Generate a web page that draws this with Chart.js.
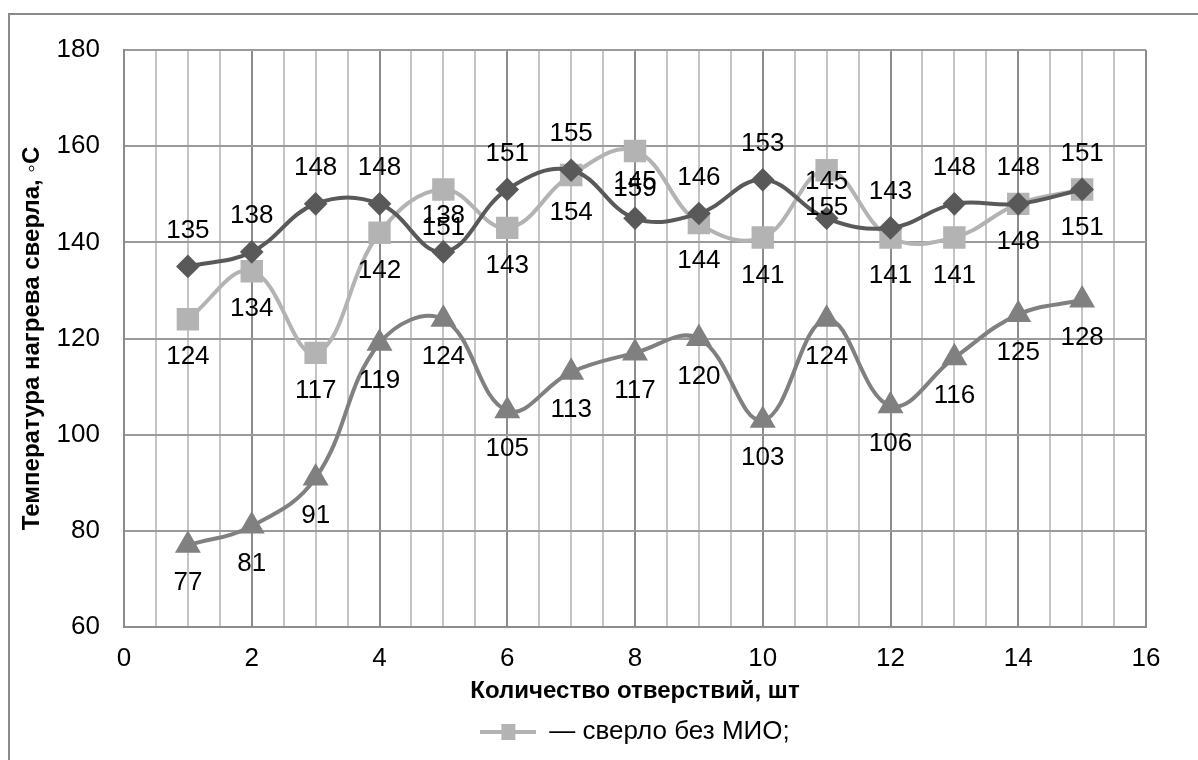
<!DOCTYPE html>
<html>
<head>
<meta charset="utf-8">
<script src="https://cdn.jsdelivr.net/npm/chart.js@4.4.1/dist/chart.umd.min.js"></script>
<style>
    html, body { margin: 0; padding: 0; background: #fff; }
    #wrap  { position: relative; width: 1198px; height: 760px; overflow: hidden; }
    #frame { position: absolute; left: 8px; top: 13px; width: 1300px; height: 900px; border: 2px solid #8a8a8a; }
    #chart { position: absolute; left: 0; top: 0; }
</style>
</head>
<body>
<div id="wrap">
    <div id="frame"></div>
    <canvas id="chart" width="1198" height="760"></canvas>
</div>
<script>
// Data
const holes       = [1, 2, 3, 4, 5, 6, 7, 8, 9, 10, 11, 12, 13, 14, 15];
const darkSeries  = [135, 138, 148, 148, 138, 151, 155, 145, 146, 153, 145, 143, 148, 148, 151];
const lightSeries = [124, 134, 117, 142, 151, 143, 154, 159, 144, 141, 155, 141, 141, 148, 151];
const midSeries   = [77, 81, 91, 119, 124, 105, 113, 117, 120, 103, 124, 106, 116, 125, 128];
const xTicks      = [0, 2, 4, 6, 8, 10, 12, 14, 16];
const yTicks      = [60, 80, 100, 120, 140, 160, 180];

const FONT = "Arial, 'Liberation Sans', sans-serif";
const toPoints = vals => vals.map((v, i) => ({ x: holes[i], y: v }));

// legend marker: line with a square on it
const legendMark = document.createElement("canvas");
legendMark.width = 56; legendMark.height = 18;
(() => {
    const c = legendMark.getContext("2d");
    c.strokeStyle = "#b3b3b3"; c.lineWidth = 4;
    c.beginPath(); c.moveTo(0, 9); c.lineTo(56, 9); c.stroke();
    c.fillStyle = "#b3b3b3";
    c.fillRect(21, 1, 14, 16);
})();

// value labels above / below each point
const valueLabels = {
    id: "valueLabels",
    afterDatasetsDraw(chart) {
        const ctx = chart.ctx;
        ctx.save();
        ctx.font = "26px " + FONT;
        ctx.fillStyle = "#000";
        ctx.textAlign = "center";
        ctx.textBaseline = "middle";
        chart.data.datasets.forEach((ds, di) => {
            const meta = chart.getDatasetMeta(di);
            const dy = ds.labelPos === "above" ? -36 : 38;
            meta.data.forEach((pt, i) => {
                ctx.fillText(String(ds.data[i].y), pt.x, pt.y + dy);
            });
        });
        ctx.restore();
    }
};

// center the legend under the plot area rather than the whole canvas
const centerLegend = {
    id: "centerLegend",
    afterLayout(chart) {
        const lg = chart.legend, ca = chart.chartArea;
        if (!lg || !ca) return;
        const shift = (ca.left + ca.right) / 2 - (lg.left + lg.right) / 2;
        lg.left += shift;
        lg.right += shift;
    }
};

new Chart(document.getElementById("chart"), {
    type: "line",
    data: {
        datasets: [
            {
                label: "сверло с МИО",
                data: toPoints(darkSeries),
                borderColor: "#595959", backgroundColor: "#595959",
                borderWidth: 4, tension: 0.4,
                pointStyle: "rectRot", pointRadius: 9, pointHoverRadius: 9,
                order: 0, labelPos: "above",
            },
            {
                label: "— сверло без МИО;",
                data: toPoints(lightSeries),
                borderColor: "#b3b3b3", backgroundColor: "#b3b3b3",
                borderWidth: 4, tension: 0.4,
                pointStyle: "rect", pointRadius: 13, pointHoverRadius: 13,
                order: 1, labelPos: "below",
            },
            {
                label: "сверло",
                data: toPoints(midSeries),
                borderColor: "#808080", backgroundColor: "#808080",
                borderWidth: 4, tension: 0.4,
                pointStyle: "triangle", pointRadius: 11, pointHoverRadius: 11,
                order: 2, labelPos: "below",
            },
        ]
    },
    options: {
        responsive: false,
        animation: false,
        events: [],
        layout: { padding: { left: 10, top: 50, right: 52, bottom: 5 } },
        plugins: {
            tooltip: { enabled: false },
            legend: {
                position: "bottom",
                labels: {
                    usePointStyle: true,
                    pointStyleWidth: 56,
                    generateLabels: chart => [{
                        text: chart.data.datasets[1].label,
                        pointStyle: legendMark,
                        datasetIndex: 1,
                        fontColor: "#000",
                        lineWidth: 0,
                    }],
                    color: "#000",
                    font: { family: FONT, size: 26 },
                    padding: 6,
                }
            }
        },
        scales: {
            x: {
                type: "linear", min: 0, max: 16,
                afterFit: s => { s.height = 86; },
                ticks: {
                    stepSize: 0.5, autoSkip: false, maxRotation: 0,
                    padding: 16, color: "#000",
                    font: { family: FONT, size: 26 },
                    callback: v => xTicks.includes(v) ? String(v) : "",
                },
                grid: {
                    drawTicks: false,
                    color: c => (c.tick && xTicks.includes(c.tick.value)) ? "#8c8c8c" : "#c4c4c4",
                    lineWidth: 2,
                },
                border: { color: "#8c8c8c", width: 2 },
                title: {
                    display: true, text: "Количество отверствий, шт",
                    color: "#000", font: { family: FONT, size: 24, weight: "bold" },
                    padding: { top: 4, bottom: 7 },
                },
            },
            y: {
                min: 60, max: 180,
                afterFit: s => { s.width = 114; },
                afterBuildTicks: s => { s.ticks = yTicks.map(v => ({ value: v })); },
                ticks: {
                    padding: 24, color: "#000",
                    font: { family: FONT, size: 26 },
                },
                grid: { drawTicks: false, color: "#9a9a9a", lineWidth: 2 },
                border: { color: "#8c8c8c", width: 2 },
                title: {
                    display: true, text: "Температура нагрева сверла, ◦С",
                    color: "#000", font: { family: FONT, size: 24, weight: "bold" },
                    padding: { top: 8, bottom: 0 },
                },
            }
        }
    },
    plugins: [valueLabels, centerLegend]
});
</script>
</body>
</html>
